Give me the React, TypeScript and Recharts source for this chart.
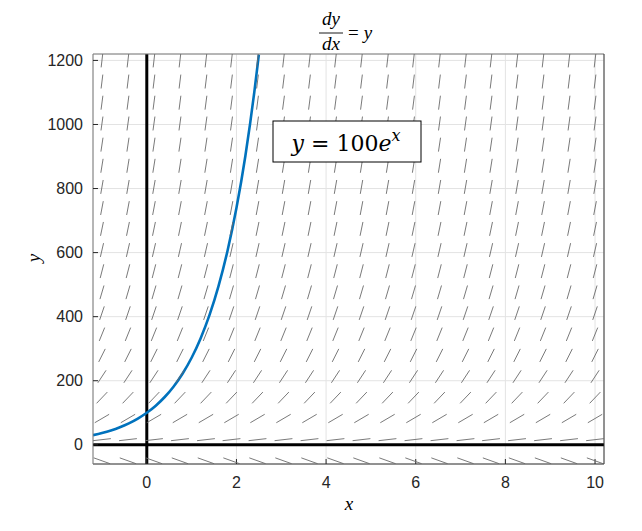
import React from "react";
import {
  CartesianGrid,
  ComposedChart,
  Line,
  ReferenceLine,
  Scatter,
  XAxis,
  YAxis,
} from "recharts";

// slope field grid (dy/dx = y)
const fieldX = [
  -1, -0.42, 0.16, 0.74, 1.32, 1.89, 2.47, 3.05, 3.63, 4.21,
  4.79, 5.37, 5.95, 6.53, 7.11, 7.68, 8.26, 8.84, 9.42, 10,
];
const fieldY = [
  -50, 16, 82, 147, 213, 279, 345, 411, 476, 542,
  608, 674, 739, 805, 871, 937, 1003, 1068, 1134, 1200,
];

// solution curve y = 100e^x
const curveX = [
  -1.2, -1, -0.8, -0.6, -0.4, -0.2, 0, 0.2, 0.4, 0.6,
  0.8, 1, 1.2, 1.4, 1.6, 1.8, 2, 2.2, 2.4, 2.5,
];
const curveY = [
  30.1, 36.8, 44.9, 54.9, 67, 81.9, 100, 122.1, 149.2, 182.2,
  222.6, 271.8, 332, 405.5, 495.3, 605, 738.9, 902.5, 1102.3, 1218.2,
];

const xTicks = [0, 2, 4, 6, 8, 10];
const yTicks = [0, 200, 400, 600, 800, 1000, 1200];
const xDomain: [number, number] = [-1.2, 10.2];
const yDomain: [number, number] = [-60, 1220];

const W = 634;
const H = 515;
const PLOT_W = 511;
const PLOT_H = 410;
const PX_PER_X = PLOT_W / (xDomain[1] - xDomain[0]);
const PX_PER_Y = PLOT_H / (yDomain[1] - yDomain[0]);
const HALF_W = 9;
const HALF_H = 7;

const fieldData = fieldY.flatMap((y) => fieldX.map((x) => ({ x, y, slope: y })));
const curveData = curveX.map((x, i) => ({ x, y: curveY[i] }));

function SlopeMark(props: any) {
  const { cx, cy, payload } = props;
  if (cx == null || cy == null) return null;
  const m = (payload.slope * PX_PER_Y) / PX_PER_X;
  const mn = (m * HALF_W) / HALF_H;
  const n = Math.sqrt(1 + mn * mn);
  const dx = HALF_W / n;
  const dy = (HALF_H * mn) / n;
  return (
    <line
      x1={cx - dx}
      y1={cy + dy}
      x2={cx + dx}
      y2={cy - dy}
      stroke="#6a6a6a"
      strokeWidth={0.9}
    />
  );
}

const tickFont = { fontFamily: "Liberation Sans, Arial, sans-serif", fontSize: 16, fill: "#262626" };
const serif = "Liberation Serif, DejaVu Serif, serif";

export default function App() {
  return (
    <div style={{ position: "relative", width: W, height: H }}>
      <ComposedChart
        width={W}
        height={H}
        margin={{ top: 36, right: 28, bottom: 29, left: 25 }}
      >
        <CartesianGrid stroke="#e3e3e3" />
        <XAxis
          type="number"
          dataKey="x"
          domain={xDomain}
          ticks={xTicks}
          allowDataOverflow
          height={30}
          tickSize={-5}
          tickMargin={18}
          tick={tickFont}
          stroke="#333"
          tickLine={{ stroke: "#262626" }}
        />
        <XAxis
          xAxisId="top"
          orientation="top"
          type="number"
          domain={xDomain}
          ticks={xTicks}
          allowDataOverflow
          height={10}
          tickSize={-5}
          tick={false}
          stroke="#7a7a7a"
          tickLine={{ stroke: "#262626" }}
        />
        <YAxis
          type="number"
          domain={yDomain}
          ticks={yTicks}
          allowDataOverflow
          width={60}
          tickSize={-5}
          tickMargin={15}
          tick={tickFont}
          stroke="#7a7a7a"
          tickLine={{ stroke: "#262626" }}
        />
        <YAxis
          yAxisId="right"
          orientation="right"
          type="number"
          domain={yDomain}
          ticks={yTicks}
          allowDataOverflow
          width={10}
          tickSize={-5}
          tick={false}
          stroke="#333"
          tickLine={{ stroke: "#262626" }}
        />
        <Scatter
          data={fieldData}
          dataKey="y"
          shape={SlopeMark}
          isAnimationActive={false}
        />
        <ReferenceLine x={0} stroke="#000" strokeWidth={3} />
        <ReferenceLine y={0} stroke="#000" strokeWidth={3} />
        <Line
          data={curveData}
          dataKey="y"
          type="monotone"
          stroke="#0072BD"
          strokeWidth={2.6}
          dot={false}
          isAnimationActive={false}
        />
      </ComposedChart>
      <svg
        width={W}
        height={H}
        style={{ position: "absolute", left: 0, top: 0, pointerEvents: "none" }}
      >
        <g fontFamily={serif} fontStyle="italic" fontSize={19} fill="#000">
          <text x={323} y={17} textAnchor="middle">dy</text>
          <line x1={311} y1={25} x2={335} y2={25} stroke="#000" strokeWidth={0.9} />
          <text x={323} y={42} textAnchor="middle">dx</text>
          <text x={340} y={31}>
            <tspan fontStyle="normal">=</tspan>
            <tspan dx={5}>y</tspan>
          </text>
          <text x={341} y={502} textAnchor="middle">x</text>
          <text x={0} y={0} transform="translate(32 250) rotate(-90)" textAnchor="middle">y</text>
        </g>
        <rect x={265} y={113} width={148} height={41} fill="#fff" stroke="#000" strokeWidth={1} />
        <text x={338} y={143} textAnchor="middle" fontFamily="DejaVu Serif, serif" fontSize={22} fill="#000">
          <tspan fontStyle="italic">y</tspan>
          <tspan> = 100</tspan>
          <tspan fontStyle="italic">e</tspan>
          <tspan fontStyle="italic" fontSize={16} dy={-10}>x</tspan>
        </text>
      </svg>
    </div>
  );
}
